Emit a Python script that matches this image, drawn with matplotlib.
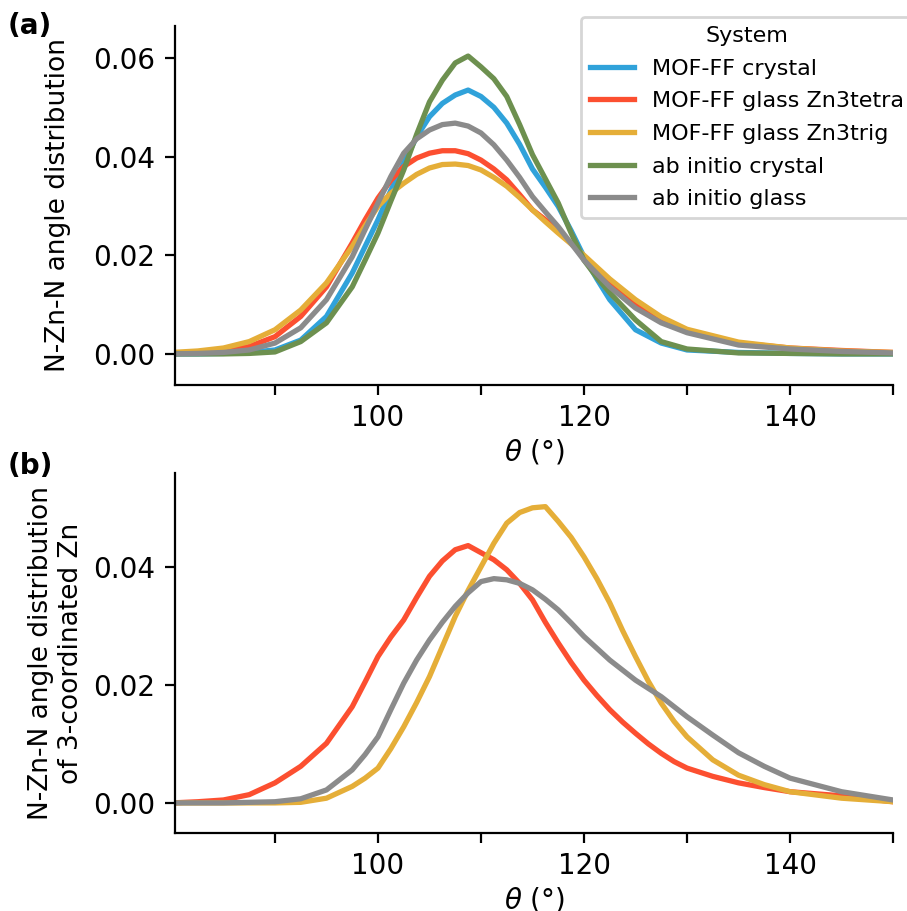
import numpy as np
import matplotlib.pyplot as plt

# angles (deg) at which the distributions were read, panel (a)
theta_a = [80, 82.5, 85, 87.5, 90, 92.5, 95, 97.5, 98.75, 100, 101.25, 102.5, 103.75,
           105, 106.25, 107.5, 108.75, 110, 111.25, 112.5, 113.75, 115, 116.25, 117.5,
           118.75, 120, 121.25, 122.5, 125, 127.5, 130, 135, 140, 145, 150]

mof_crystal = [0.0, 0.0, 0.0001, 0.0003, 0.0008, 0.0028, 0.0076, 0.0164, 0.0218, 0.0272,
               0.0332, 0.0387, 0.0440, 0.0481, 0.0508, 0.0525, 0.0535, 0.0522, 0.0500,
               0.0468, 0.0425, 0.0375, 0.0338, 0.0299, 0.0250, 0.0197, 0.0152, 0.0110,
               0.0049, 0.0022, 0.0008, 0.0003, 0.0001, 0.0, 0.0]
mof_tetra = [0.0001, 0.0003, 0.0006, 0.0015, 0.0035, 0.0076, 0.0136, 0.0225, 0.0272, 0.0316,
             0.0352, 0.0380, 0.0397, 0.0407, 0.0412, 0.0412, 0.0406, 0.0393, 0.0375,
             0.0353, 0.0323, 0.0292, 0.0272, 0.0251, 0.0224, 0.0197, 0.0170, 0.0144,
             0.0103, 0.0069, 0.0045, 0.0022, 0.0012, 0.0007, 0.0003]
mof_trig = [0.0003, 0.0006, 0.0012, 0.0025, 0.0049, 0.0089, 0.0144, 0.0218, 0.0260, 0.0299,
            0.0326, 0.0346, 0.0364, 0.0377, 0.0384, 0.0385, 0.0382, 0.0373, 0.0358,
            0.0340, 0.0317, 0.0292, 0.0268, 0.0245, 0.0223, 0.0200, 0.0176, 0.0152,
            0.0110, 0.0075, 0.0050, 0.0024, 0.0012, 0.0006, 0.0003]
ai_crystal = [0.0, 0.0, 0.0, 0.0001, 0.0004, 0.0025, 0.0063, 0.0136, 0.0190, 0.0245,
              0.0310, 0.0373, 0.0445, 0.0511, 0.0555, 0.0590, 0.0604, 0.0582, 0.0558,
              0.0522, 0.0465, 0.0404, 0.0355, 0.0306, 0.0245, 0.0190, 0.0155, 0.0124,
              0.0069, 0.0025, 0.0010, 0.0002, 0.0001, 0.0, 0.0]
ai_glass = [0.0, 0.0001, 0.0003, 0.0008, 0.0022, 0.0053, 0.0110, 0.0197, 0.0252, 0.0306,
            0.0360, 0.0407, 0.0436, 0.0454, 0.0465, 0.0468, 0.0462, 0.0448, 0.0424,
            0.0393, 0.0358, 0.0319, 0.0288, 0.0258, 0.0224, 0.0190, 0.0163, 0.0136,
            0.0093, 0.0063, 0.0043, 0.0018, 0.0010, 0.0005, 0.0002]

# panel (b): 3-coordinated Zn only
theta_b = [80, 82.5, 85, 87.5, 90, 92.5, 95, 97.5, 98.75, 100, 101.25, 102.5, 103.75,
           105, 106.25, 107.5, 108.75, 110, 111.25, 112.5, 113.75, 115, 116.25, 117.5,
           118.75, 120, 121.25, 122.5, 123.75, 125, 126.25, 127.5, 128.75, 130, 132.5,
           135, 137.5, 140, 145, 150]
tetra_3c = [0.0, 0.0002, 0.0005, 0.0014, 0.0034, 0.0062, 0.0101, 0.0163, 0.0205, 0.0248,
            0.0281, 0.0310, 0.0348, 0.0384, 0.0410, 0.0429, 0.0436, 0.0424, 0.0412,
            0.0395, 0.0372, 0.0344, 0.0306, 0.0271, 0.0238, 0.0208, 0.0182, 0.0158,
            0.0137, 0.0118, 0.0100, 0.0084, 0.0070, 0.0059, 0.0045, 0.0034, 0.0026,
            0.0019, 0.0012, 0.0002]
trig_3c = [0.0, 0.0, 0.0, 0.0, 0.0, 0.0001, 0.0008, 0.0028, 0.0042, 0.0059, 0.0092,
           0.0129, 0.0170, 0.0214, 0.0265, 0.0316, 0.0360, 0.0400, 0.0440, 0.0474,
           0.0492, 0.0500, 0.0502, 0.0477, 0.0450, 0.0417, 0.0380, 0.0339, 0.0292,
           0.0248, 0.0206, 0.0169, 0.0138, 0.0112, 0.0073, 0.0047, 0.0031, 0.0019,
           0.0008, 0.0002]
glass_3c = [0.0, 0.0, 0.0, 0.0001, 0.0002, 0.0007, 0.0022, 0.0056, 0.0082, 0.0112, 0.0158,
            0.0203, 0.0242, 0.0276, 0.0306, 0.0333, 0.0356, 0.0375, 0.0380, 0.0378,
            0.0372, 0.0361, 0.0345, 0.0327, 0.0305, 0.0282, 0.0262, 0.0242, 0.0225,
            0.0208, 0.0194, 0.0180, 0.0163, 0.0146, 0.0115, 0.0085, 0.0062, 0.0042,
            0.0019, 0.0005]

colors = {'blue': '#30a2da', 'red': '#fc4f30', 'yellow': '#e5ae38',
          'green': '#6d904f', 'gray': '#8b8b8b'}

plt.rcParams['font.size'] = 10
fig = plt.figure(figsize=(4.535, 4.555), dpi=200)
ax1 = fig.add_axes([0.193, 0.5774, 0.7916, 0.3941])
ax2 = fig.add_axes([0.193, 0.0856, 0.7916, 0.3952])

lw = 1.9
ax1.plot(theta_a, mof_crystal, color=colors['blue'], lw=lw, label='MOF-FF crystal')
ax1.plot(theta_a, mof_tetra, color=colors['red'], lw=lw, label='MOF-FF glass Zn3tetra')
ax1.plot(theta_a, mof_trig, color=colors['yellow'], lw=lw, label='MOF-FF glass Zn3trig')
ax1.plot(theta_a, ai_crystal, color=colors['green'], lw=lw, label='ab initio crystal')
ax1.plot(theta_a, ai_glass, color=colors['gray'], lw=lw, label='ab initio glass')

ax2.plot(theta_b, tetra_3c, color=colors['red'], lw=lw)
ax2.plot(theta_b, trig_3c, color=colors['yellow'], lw=lw)
ax2.plot(theta_b, glass_3c, color=colors['gray'], lw=lw)

for ax in (ax1, ax2):
    ax.spines['top'].set_visible(False)
    ax.spines['right'].set_visible(False)
    ax.set_xlim(80.3, 150)
    ax.set_xticks([90, 100, 110, 120, 130, 140, 150])
    ax.set_xticklabels(['', '100', '', '120', '', '140', ''])
    ax.set_xlabel(r'$\theta$ (°)', labelpad=1.8)

ax1.set_ylim(-0.0063, 0.0665)
ax1.set_yticks([0, 0.02, 0.04, 0.06])
ax1.set_yticklabels(['0.00', '0.02', '0.04', '0.06'])
ax1.set_ylabel('N-Zn-N angle distribution', fontsize=9.5, labelpad=8)

ax2.set_ylim(-0.0051, 0.0559)
ax2.set_yticks([0, 0.02, 0.04])
ax2.set_yticklabels(['0.00', '0.02', '0.04'])
ax2.set_ylabel('N-Zn-N angle distribution\nof 3-coordinated Zn', fontsize=9.5,
               labelpad=3.3)

ax1.legend(title='System', fontsize=8, title_fontsize=8, loc='upper left',
           bbox_to_anchor=(0.6406, 0.9813), bbox_transform=fig.transFigure,
           borderaxespad=0, labelspacing=0.57)

fig.text(0.008, 0.987, '(a)', fontweight='bold', va='top')
fig.text(0.008, 0.504, '(b)', fontweight='bold', va='top')

fig.savefig('out.png', dpi=200)
